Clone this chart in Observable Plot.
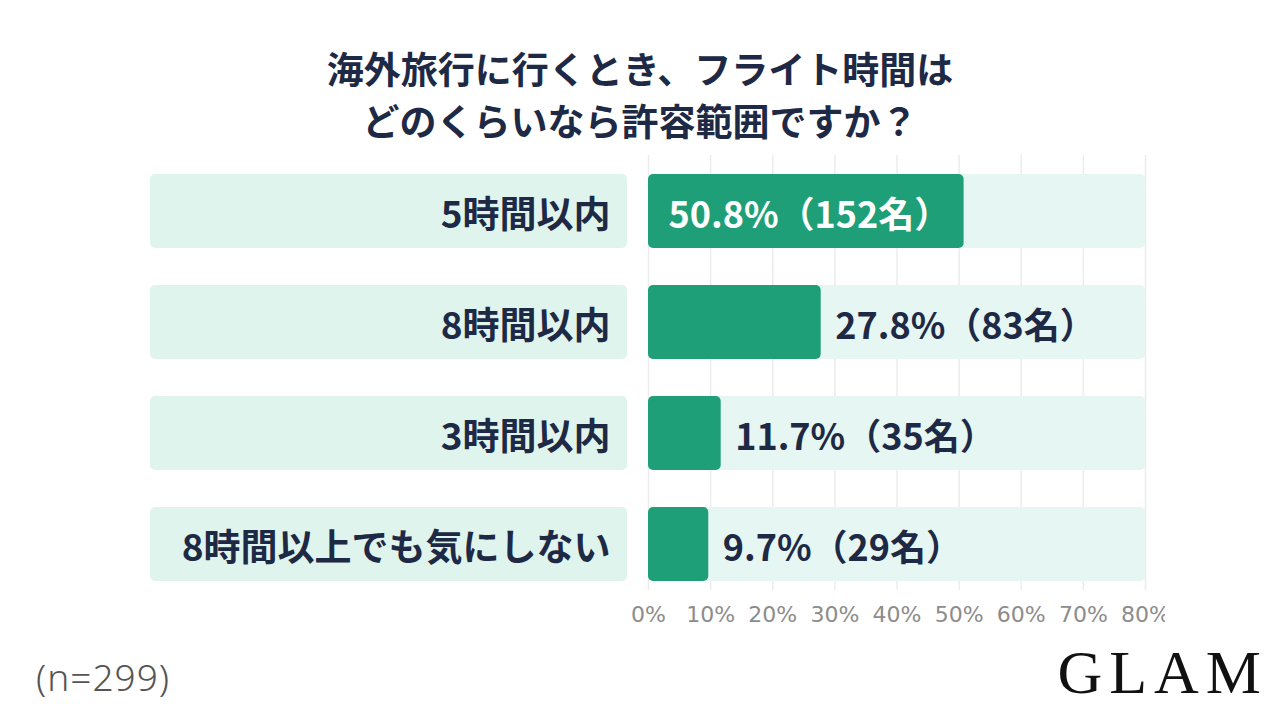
<!DOCTYPE html>
<html><head><meta charset="utf-8">
<script src="https://cdn.jsdelivr.net/npm/d3@7"></script>
<script src="https://cdn.jsdelivr.net/npm/@observablehq/plot@0.6"></script>
<style>
html,body{margin:0;padding:0;background:#fff;}
body{width:1280px;height:720px;position:relative;overflow:hidden;font-family:"Noto Sans CJK JP",sans-serif;}
#title{position:absolute;left:0;top:42px;width:1280px;text-align:center;font-size:37px;font-weight:700;line-height:52px;color:#1e2a45;}
#left{position:absolute;left:0;top:0;}
#right{position:absolute;left:628px;top:0;}
#n{position:absolute;left:36px;top:652px;font-family:"Noto Sans",sans-serif;font-weight:300;font-size:37px;line-height:50px;color:#555;letter-spacing:1px;}
#logo{position:absolute;right:12px;top:641px;font-family:"Liberation Serif",serif;font-size:62px;line-height:62px;letter-spacing:7px;color:#111;}
</style></head><body>
<div id="title">海外旅行に行くとき、フライト時間は<br>どのくらいなら許容範囲ですか？</div>
<div id="left"></div>
<div id="right"></div>
<div id="n">(n=299)</div>
<div id="logo">GLAM</div>
<script>
const categories = ["5時間以内", "8時間以内", "3時間以内", "8時間以上でも気にしない"];
const percents = [50.8, 27.8, 11.7, 9.7];
const counts = [152, 83, 35, 29];
const xTicks = [0, 10, 20, 30, 40, 50, 60, 70, 80];
const xMax = 80;

const data = categories.map((c, i) => ({cat: c, p: percents[i], n: counts[i]}));
const label = d => `${d.p}%（${d.n}名）`;

const H = 640, MT = 155, MB = 50;
const yOpts = {domain: categories, paddingInner: 0.337, paddingOuter: 0.116, align: 0.654, axis: null};
const dark = "#1e2a45";
const cjk = "Noto Sans CJK JP";

const left = Plot.plot({
  width: 628, height: H, marginTop: MT, marginBottom: MB, marginLeft: 150, marginRight: 1,
  style: {background: "transparent", overflow: "visible"},
  x: {domain: [0, 1], axis: null},
  y: yOpts,
  marks: [
    Plot.barX(data, {x1: () => 0, x2: () => 1, y: "cat", fill: "#e0f4ee", rx: 5}),
    Plot.text(data, {x: () => 1, y: "cat", text: "cat", textAnchor: "end", dx: -17, dy: 5,
      fontSize: 37, fontWeight: 700, fill: dark, fontFamily: cjk})
  ]
});
document.getElementById("left").appendChild(left);

const right = Plot.plot({
  width: 537, height: H, marginTop: MT, marginBottom: MB, marginLeft: 20, marginRight: 20,
  style: {background: "transparent", overflow: "hidden", fontFamily: "DejaVu Sans", fontSize: "22px", color: "#8c8c8c"},
  x: {domain: [0, xMax], ticks: xTicks, tickFormat: d => d + "%", tickSize: 0, tickPadding: 16, label: null},
  y: yOpts,
  marks: [
    Plot.ruleX(xTicks, {stroke: "#ececec", strokeWidth: 1.5}),
    Plot.barX(data, {x1: () => 0, x2: () => xMax, y: "cat", fill: "#e6f6f2", rx: 5}),
    Plot.barX(data, {x1: () => 0, x2: "p", y: "cat", fill: "#1f9f77", rx: 5}),
    Plot.text(data.filter(d => d.p > 40), {x: () => 0, y: "cat", text: label, textAnchor: "start", dx: 20, dy: 5,
      fontSize: 36, fontWeight: 700, fill: "#ffffff", fontFamily: cjk}),
    Plot.text(data.filter(d => d.p <= 40), {x: "p", y: "cat", text: label, textAnchor: "start", dx: 14, dy: 5,
      fontSize: 36, fontWeight: 700, fill: dark, fontFamily: cjk})
  ]
});
document.getElementById("right").appendChild(right);
</script>
</body></html>
